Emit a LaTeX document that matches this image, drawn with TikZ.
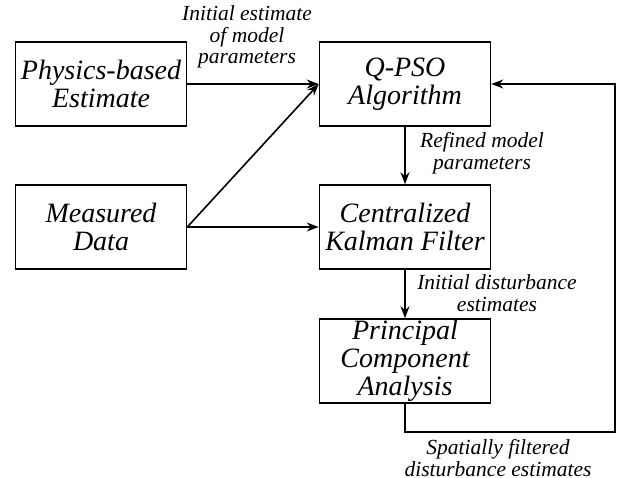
\documentclass[tikz,border=0pt]{standalone}
\usepackage{fontspec}
\setmainfont{Liberation Serif}
\usetikzlibrary{arrows.meta,positioning}

\begin{document}
\begin{tikzpicture}[x=1pt, y=-1pt,
    blk/.style={rectangle, draw=black, line width=1.6pt, align=center,
                minimum width=171pt, minimum height=84pt, inner sep=0pt,
                font=\fontsize{28}{28}\selectfont\itshape},
    lbl/.style={align=center, inner sep=0pt,
                font=\fontsize{21.5}{21.5}\selectfont\itshape},
    arr/.style={-{Stealth[length=12pt, width=9pt, inset=4pt]}, line width=1.6pt}
  ]
  \useasboundingbox (0,0) rectangle (627,477);

  \node[blk] (phys) at (101,84)  {Physics-based\\Estimate};
  \node[blk] (meas) at (101,227) {Measured\\Data};
  \node[blk] (qpso) at (405,84)  {Q-PSO\\Algorithm};
  \node[blk] (kf)   at (405,227) {Centralized\\Kalman Filter};
  \node[blk] (pca)  at (405,361) {Principal\\Component\\Analysis};

  \node[lbl] (lini) at (247,37)  {Initial estimate\\of model\\parameters};
  \node[lbl] (lref) at (482,153) {Refined model\\parameters};
  \node[lbl] (ldis) at (497,293) {Initial disturbance\\estimates};
  \node[lbl] (lspa) at (498,458) {Spatially filtered\\disturbance estimates};

  \coordinate (fb) at (615,432);

  \draw[arr] (phys) -- (qpso);
  \draw[arr] (meas.east) -- (qpso.west);
  \draw[arr] (meas) -- (kf);
  \draw[arr] (qpso) -- (kf);
  \draw[arr] (kf) -- (pca);
  \draw[arr] (pca.south) |- (fb) |- (qpso.east);
\end{tikzpicture}
\end{document}
